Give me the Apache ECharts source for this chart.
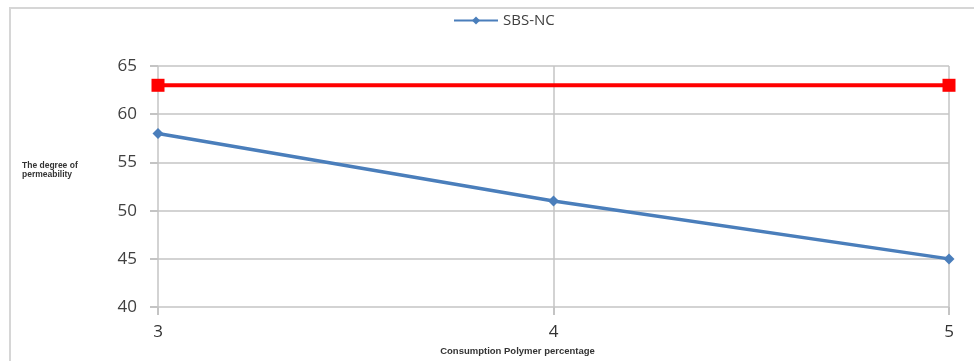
<!DOCTYPE html>
<html><head><meta charset="utf-8">
<script src="https://cdn.jsdelivr.net/npm/echarts@6/dist/echarts.min.js"></script>
<style>html,body{margin:0;padding:0;background:#fff}#c{width:974px;height:361px}</style>
</head><body><div id="c"></div>
<script>
var xValues = [3, 4, 5];
var sbsNC = [58, 51, 45];
var refX = [3, 5];
var refValues = [63, 63];
var yTicks = [40, 45, 50, 55, 60, 65];
var seriesName = 'SBS-NC';
var xTitle = 'Consumption Polymer percentage';
var yTitle = 'The degree of\npermeability';

var chart = echarts.init(document.getElementById('c'), null, {renderer: 'canvas'});
var font = "'Open Sans', 'Liberation Sans', sans-serif";
chart.setOption({
  animation: false,
  backgroundColor: '#fff',
  graphic: [
    {type: 'rect', shape: {x: 10, y: 8, width: 1000, height: 400}, style: {fill: 'none', stroke: '#d6d6d6', lineWidth: 2}, silent: true},
    {type: 'text', left: 22, top: 161, style: {text: yTitle, font: "bold 8.5px 'Liberation Sans', sans-serif", fill: '#333', lineHeight: 9}}
  ],
  legend: {
    data: [seriesName], top: 8, left: 448, itemWidth: 44, itemHeight: 10, itemGap: 4,
    textStyle: {fontFamily: font, fontSize: 15, color: '#404040'}
  },
  grid: {left: 158, right: 25, top: 66, bottom: 52},
  xAxis: {
    type: 'value', min: xValues[0], max: xValues[xValues.length - 1], interval: 1,
    name: xTitle, nameLocation: 'middle', nameGap: 37,
    nameTextStyle: {fontFamily: "'Liberation Sans', sans-serif", fontSize: 9.5, fontWeight: 'bold', color: '#333', padding: [0, 72, 0, 0]},
    axisLine: {show: false},
    axisTick: {show: true, length: 8, lineStyle: {color: '#c4c4c4', width: 2}},
    axisLabel: {margin: 17, fontFamily: font, fontSize: 17, color: '#333'},
    splitLine: {show: true, lineStyle: {color: '#c4c4c4', width: 1.5}}
  },
  yAxis: {
    type: 'value', min: yTicks[0], max: yTicks[yTicks.length - 1], interval: 5,
    axisLine: {show: false},
    axisTick: {show: true, length: 8, lineStyle: {color: '#c4c4c4', width: 2}},
    axisLabel: {margin: 21, fontFamily: font, fontSize: 17, color: '#404040'},
    splitLine: {show: true, lineStyle: {color: '#c4c4c4', width: 1.5}}
  },
  series: [
    {
      name: 'ref', type: 'line', data: refX.map(function (x, i) { return [x, refValues[i]]; }),
      symbol: 'rect', symbolSize: 13, showAllSymbol: true,
      lineStyle: {color: '#ff0000', width: 4}, itemStyle: {color: '#ff0000'}, z: 3
    },
    {
      name: seriesName, type: 'line', data: xValues.map(function (x, i) { return [x, sbsNC[i]]; }),
      symbol: 'diamond', symbolSize: 11, showAllSymbol: true,
      lineStyle: {color: '#4a7ebb', width: 3.5}, itemStyle: {color: '#4a7ebb'}, z: 4
    }
  ]
});
</script></body></html>
